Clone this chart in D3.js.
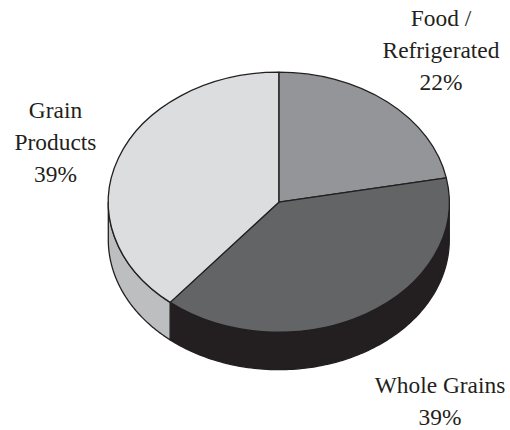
<!DOCTYPE html>
<html>
<head>
<meta charset="utf-8">
<script src="https://cdn.jsdelivr.net/npm/d3@7"></script>
<style>
  html, body { margin: 0; padding: 0; background: #fff; }
  svg { display: block; }
  text { font-family: "Liberation Serif", serif; font-size: 23.4px; fill: #231f20; text-anchor: middle; }
</style>
</head>
<body>
<div id="chart"></div>
<script>
// Data, clockwise from 12 o'clock
var categories = ["Food / Refrigerated", "Whole Grains", "Grain Products"];
var shares = [22, 39, 39];
var labelLines = [["Food /", "Refrigerated", "22%"], ["Whole Grains", "39%"], ["Grain", "Products", "39%"]];

var topColors = ["#939598", "#636466", "#dcddde"];
var sideColors = ["#939598", "#231f20", "#bcbec0"];

// Set up SVG
var svgWidth = 510;
var svgHeight = 430;

var cx = 278.8;
var cy = 202.2;
var rx = 170.5;
var ry = 130;
var depth = 37.5;

var labelPos = [
    { x: 441, y: 26 },
    { x: 440, y: 392.5 },
    { x: 55.5, y: 118 }
];
var lineGap = 32;

var svg = d3.select("#chart")
 .append("svg")
 .attr("width", svgWidth)
 .attr("height", svgHeight);

var slices = d3.pie().sort(null)(shares);

// Side wall, only the front half of the rim shows
var rimX = a => cx + rx * Math.sin(a);
var rimY = a => cy - ry * Math.cos(a);

var side = d3.area()
 .x(a => rimX(a))
 .y0(a => rimY(a))
 .y1(a => rimY(a) + depth);

var sideGroup = svg.append("g");

slices.forEach(function(d, i) {
    var start = Math.max(d.startAngle, Math.PI / 2);
    var end = Math.min(d.endAngle, Math.PI * 1.5);
    if (end <= start) return;

    var angles = d3.range(0, 121).map(n => start + (end - start) * n / 120);

    sideGroup.append("path")
     .attr("d", side(angles))
     .attr("fill", sideColors[i])
     .attr("stroke", "#231f20")
     .attr("stroke-width", 1.3)
     .attr("stroke-linejoin", "round");
});

// Top of the pie: a round d3 pie squashed into an ellipse
var arc = d3.arc().innerRadius(0).outerRadius(rx);

svg.append("g")
 .attr("transform", `translate(${cx}, ${cy}) scale(1, ${ry / rx})`)
 .selectAll("path")
 .data(slices)
 .enter()
 .append("path")
 .attr("d", arc)
 .attr("fill", (d, i) => topColors[i])
 .attr("stroke", "#231f20")
 .attr("stroke-width", 1.3)
 .attr("stroke-linejoin", "round")
 .attr("vector-effect", "non-scaling-stroke");

// Labels
categories.forEach(function(name, i) {
    var label = svg.append("text")
     .attr("x", labelPos[i].x)
     .attr("y", labelPos[i].y);

    labelLines[i].forEach(function(line, j) {
        label.append("tspan")
         .attr("x", labelPos[i].x)
         .attr("y", labelPos[i].y + j * lineGap)
         .text(line);
    });
});
</script>
</body>
</html>
